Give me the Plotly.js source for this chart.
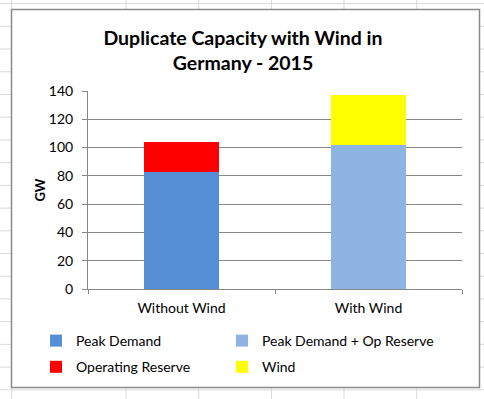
<!DOCTYPE html>
<html>
<head>
<meta charset="utf-8">
<script src="https://cdn.plot.ly/plotly-3.0.1.min.js"></script>
<style>html,body{margin:0;padding:0;background:#fff;}#chart{width:484px;height:399px;}</style>
</head>
<body>
<div id="chart"></div>
<script>
// ---- data ----
const categories = ["Without Wind", "With Wind"];
const seriesNames = ["Peak Demand", "Peak Demand + Op Reserve", "Operating Reserve", "Wind"];
const peakDemand = [83, null];
const peakDemandOpReserve = [null, 102];
const operatingReserve = [21, null];
const wind = [null, 35];
const yTickVals = [0, 20, 40, 60, 80, 100, 120, 140];
const chartTitle = "Duplicate Capacity with Wind in<br>Germany - 2015";
const yTitle = "GW";

// ---- styling ----
const colors = ["#558ed5", "#8eb4e3", "#ff0000", "#ffff00"];
const legendIds = ["legend", "legend2", "legend", "legend2"];
const FONT = "Lato, 'Liberation Sans', sans-serif";
const W = 484, H = 399;
const M = {l: 88, r: 22, t: 91, b: 110};
const pw = W - M.l - M.r, ph = H - M.t - M.b;
const px = x => (x - M.l) / pw;
const py = y => (H - M.b - y) / ph;

const seriesVals = [peakDemand, peakDemandOpReserve, operatingReserve, wind];
const traces = seriesVals.map((vals, i) => ({
  type: "bar",
  name: seriesNames[i],
  x: categories,
  y: vals,
  legend: legendIds[i],
  legendgroup: "g" + i,
  marker: {color: colors[i], line: {width: 0}},
  hoverinfo: "skip"
}));

// spreadsheet background grid (decoration)
const shapes = [];
const sheetLine = {color: "#d9d9d9", width: 1};
for (let k = 0; k < 18; k++) {
  const y = 3.6 + 22.72 * k;
  shapes.push({type: "line", xref: "paper", yref: "paper", x0: px(0), x1: px(W), y0: py(y), y1: py(y), line: sheetLine, layer: "below"});
}
[11.5, 126, 198.7, 271.4, 344, 416.7].forEach(x => {
  shapes.push({type: "line", xref: "paper", yref: "paper", x0: px(x), x1: px(x), y0: py(0), y1: py(H), line: sheetLine, layer: "below"});
});
// chart frame
shapes.push({type: "rect", xref: "paper", yref: "paper", x0: px(11.5), x1: px(479.5), y0: py(9.5), y1: py(387.5),
  fillcolor: "#ffffff", line: {color: "#8a8a8a", width: 1.5}, layer: "below"});

const legendBase = {
  orientation: "v",
  xref: "paper", xanchor: "left",
  yref: "paper", yanchor: "top", y: py(325),
  font: {family: FONT, size: 14, color: "#000"},
  bgcolor: "rgba(0,0,0,0)",
  traceorder: "grouped",
  tracegroupgap: 5
};

const layout = {
  width: W, height: H,
  margin: Object.assign({autoexpand: false}, M),
  paper_bgcolor: "#ffffff",
  plot_bgcolor: "rgba(0,0,0,0)",
  barmode: "stack",
  bargap: 0.6,
  font: {family: FONT, size: 14, color: "#000000"},
  title: {
    text: "<b>" + chartTitle + "</b>",
    font: {family: FONT, size: 19.5, color: "#000000"},
    x: 243 / W, xref: "container", xanchor: "center",
    y: 1 - 45 / H, yref: "container", yanchor: "top"
  },
  xaxis: {
    type: "category",
    showline: true, linecolor: "#868686", linewidth: 1,
    ticks: "outside", tickson: "boundaries", ticklen: 4, tickcolor: "#868686",
    showgrid: false, zeroline: false,
    ticklabelstandoff: 6,
    tickfont: {family: FONT, size: 14, color: "#000"}
  },
  yaxis: {
    range: [0, 140],
    tickvals: yTickVals,
    showline: true, linecolor: "#868686", linewidth: 1,
    ticks: "outside", ticklen: 5, tickcolor: "#868686",
    showgrid: true, gridcolor: "#868686", gridwidth: 1,
    zeroline: false,
    ticklabelstandoff: 6,
    tickfont: {family: FONT, size: 14, color: "#000"},
    title: {text: "<b>" + yTitle + "</b>", font: {family: FONT, size: 13, color: "#000"}, standoff: 0}
  },
  legend: Object.assign({}, legendBase, {x: px(36)}),
  legend2: Object.assign({}, legendBase, {x: px(222)}),
  shapes: shapes,
  showlegend: true
};

Plotly.newPlot("chart", traces, layout, {displayModeBar: false, staticPlot: true});
</script>
</body>
</html>
